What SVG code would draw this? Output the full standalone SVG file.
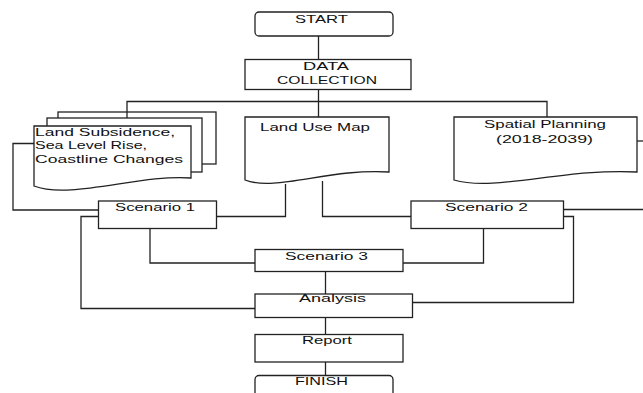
<svg xmlns="http://www.w3.org/2000/svg" width="643" height="393" viewBox="0 0 643 393">
<style>
.n{fill:#fff;stroke:#222;stroke-width:1.3}
.c{fill:none;stroke:#222;stroke-width:1.3}
text{font-family:"Liberation Sans",Arial,sans-serif;font-size:11.5px;fill:#111}
</style>
<rect width="643" height="393" fill="#fff"/>
<g id="start"><rect class="n" x="255" y="12" width="138" height="24" rx="4"/><text x="295" y="23" textLength="53" lengthAdjust="spacingAndGlyphs">START</text></g>
<g id="data-collection"><rect class="n" x="245" y="59.5" width="166" height="30"/><text x="303" y="70" textLength="46" lengthAdjust="spacingAndGlyphs">DATA</text><text x="277" y="84" textLength="100" lengthAdjust="spacingAndGlyphs">COLLECTION</text></g>
<g id="land-subsidence">
<rect class="n" x="58" y="112" width="158" height="52"/>
<rect class="n" x="47" y="118" width="155" height="54"/>
<path class="n" d="M34,126 H191 V178 C140,174 70,200 34,186 Z"/>
<text x="35" y="136" textLength="140" lengthAdjust="spacingAndGlyphs">Land Subsidence,</text>
<text x="35" y="149" textLength="112" lengthAdjust="spacingAndGlyphs">Sea Level Rise,</text>
<text x="35" y="162.5" textLength="148" lengthAdjust="spacingAndGlyphs">Coastline Changes</text>
</g>
<g id="land-use-map"><path class="n" d="M245,117 H389 V172 C330,168 275,192 245,180 Z"/><text x="260" y="130.5" textLength="110" lengthAdjust="spacingAndGlyphs">Land Use Map</text></g>
<g id="spatial-planning"><path class="n" d="M454,117 H637 V172 C565,168 495,192 454,180 Z"/><text x="484" y="127.5" textLength="122" lengthAdjust="spacingAndGlyphs">Spatial Planning</text><text x="496" y="143" textLength="97" lengthAdjust="spacingAndGlyphs">(2018-2039)</text></g>
<g id="scenario-1"><rect class="n" x="98.5" y="201" width="118" height="27.5"/><text x="115" y="210.5" textLength="80" lengthAdjust="spacingAndGlyphs">Scenario 1</text></g>
<g id="scenario-2"><rect class="n" x="411" y="201" width="152.5" height="27.5"/><text x="445" y="210.5" textLength="83" lengthAdjust="spacingAndGlyphs">Scenario 2</text></g>
<g id="scenario-3"><rect class="n" x="255" y="249.5" width="148" height="22"/><text x="285" y="260" textLength="83" lengthAdjust="spacingAndGlyphs">Scenario 3</text></g>
<g id="analysis"><rect class="n" x="255" y="294" width="157.5" height="23.5"/><text x="299" y="301.5" textLength="67" lengthAdjust="spacingAndGlyphs">Analysis</text></g>
<g id="report"><rect class="n" x="255" y="334.5" width="148" height="27.5"/><text x="302" y="344" textLength="50" lengthAdjust="spacingAndGlyphs">Report</text></g>
<g id="finish"><rect class="n" x="255" y="375.5" width="138" height="30" rx="4"/><text x="295" y="385" textLength="53" lengthAdjust="spacingAndGlyphs">FINISH</text></g>
<g id="connectors">
<path class="c" d="M318.5,36 V59.5"/>
<path class="c" d="M318.5,89.5 V117"/>
<path class="c" d="M127,118 V101.5 H547 V117"/>
<path class="c" d="M34,143.5 H13 V210 H98.5"/>
<path class="c" d="M285.5,184 V216.5 H216.5"/>
<path class="c" d="M322.5,181 V216.5 H411"/>
<path class="c" d="M637,141 H643"/>
<path class="c" d="M563.5,209.5 H643"/>
<path class="c" d="M98.5,216.5 H81 V308.5 H255"/>
<path class="c" d="M563.5,216.5 H573.5 V302.5 H412.5"/>
<path class="c" d="M150,228.5 V263 H255"/>
<path class="c" d="M483.5,228.5 V263 H403"/>
<path class="c" d="M325.5,271.5 V294"/>
<path class="c" d="M325.5,317.5 V334.5"/>
<path class="c" d="M325.5,362 V375.5"/>
</g>
</svg>
